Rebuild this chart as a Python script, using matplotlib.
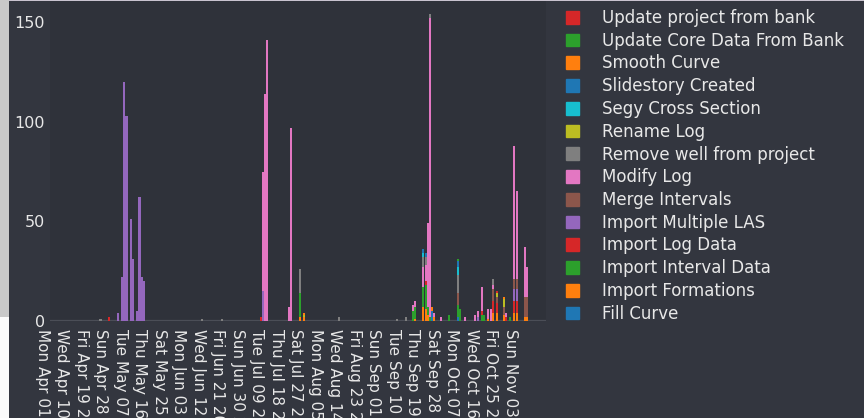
import matplotlib
matplotlib.use("Agg")
import matplotlib.pyplot as plt
import matplotlib.patches as mpatches
import numpy as np
import pandas as pd

# ---------------- data (events per day, stacked) ----------------
start_date = "2024-04-01"
end_date = "2024-11-20"
tick_every_days = 9
tick_count = 25

fill_curve = {"2024-09-28": 5, "2024-10-10": 2}
import_formations = {"2024-07-29": 2, "2024-07-31": 2, "2024-09-20": 1, "2024-09-24": 7,
                     "2024-09-25": 6, "2024-09-26": 3, "2024-09-28": 2, "2024-09-29": 2,
                     "2024-10-24": 1, "2024-10-26": 4, "2024-10-28": 4, "2024-10-31": 3,
                     "2024-11-05": 4, "2024-11-06": 4, "2024-11-10": 2, "2024-11-11": 2}
import_interval_data = {"2024-07-29": 12, "2024-09-19": 5, "2024-09-20": 6, "2024-09-24": 10,
                        "2024-09-25": 12, "2024-09-26": 4, "2024-09-27": 2, "2024-10-06": 3,
                        "2024-10-10": 6, "2024-10-11": 6, "2024-10-21": 3, "2024-10-22": 3,
                        "2024-11-03": 2}
import_log_data = {"2024-05-02": 2, "2024-07-11": 2, "2024-09-25": 2, "2024-10-21": 2,
                   "2024-10-26": 6, "2024-10-28": 5, "2024-11-01": 2, "2024-11-05": 6,
                   "2024-11-06": 6}
import_multiple_las = {"2024-05-06": 4, "2024-05-08": 22, "2024-05-09": 120, "2024-05-10": 103,
                       "2024-05-12": 51, "2024-05-13": 31, "2024-05-15": 5, "2024-05-16": 62,
                       "2024-05-17": 22, "2024-05-18": 20, "2024-07-12": 15, "2024-10-19": 2,
                       "2024-11-05": 6, "2024-11-06": 6}
merge_intervals = {"2024-10-10": 6, "2024-10-26": 6, "2024-10-28": 3, "2024-10-31": 4,
                   "2024-11-05": 5, "2024-11-06": 5, "2024-11-10": 10, "2024-11-11": 10}
modify_log = {"2024-07-12": 60, "2024-07-13": 114, "2024-07-14": 141, "2024-07-24": 7,
              "2024-07-25": 97, "2024-09-19": 3, "2024-09-20": 3, "2024-09-24": 10,
              "2024-09-25": 8, "2024-09-26": 42, "2024-09-27": 150, "2024-09-29": 2,
              "2024-10-02": 2, "2024-10-13": 2, "2024-10-18": 3, "2024-10-19": 3,
              "2024-10-21": 12, "2024-10-24": 5, "2024-10-25": 6, "2024-10-26": 2,
              "2024-11-01": 2, "2024-11-05": 67, "2024-11-06": 44, "2024-11-10": 25,
              "2024-11-11": 15}
remove_well = {"2024-04-28": 1, "2024-06-14": 1, "2024-06-23": 1, "2024-07-29": 12,
               "2024-08-16": 2, "2024-09-12": 1, "2024-09-16": 2, "2024-09-24": 5,
               "2024-09-25": 4, "2024-09-27": 2, "2024-10-10": 9, "2024-10-26": 3}
rename_log = {"2024-07-31": 1, "2024-10-28": 2, "2024-10-31": 4}
segy_cross_section = {"2024-09-24": 2, "2024-10-10": 4}
slidestory_created = {"2024-09-24": 2, "2024-09-25": 2, "2024-10-10": 3}
smooth_curve = {"2024-07-31": 1, "2024-10-31": 1}
update_core_data = {"2024-10-10": 1}
update_project = {"2024-10-28": 1}

series_names = ["Fill Curve", "Import Formations", "Import Interval Data", "Import Log Data",
                "Import Multiple LAS", "Merge Intervals", "Modify Log",
                "Remove well from project", "Rename Log", "Segy Cross Section",
                "Slidestory Created", "Smooth Curve", "Update Core Data From Bank",
                "Update project from bank"]
series_data = [fill_curve, import_formations, import_interval_data, import_log_data,
               import_multiple_las, merge_intervals, modify_log, remove_well, rename_log,
               segy_cross_section, slidestory_created, smooth_curve, update_core_data,
               update_project]
series_colors = ["#1f77b4", "#ff7f0e", "#2ca02c", "#d62728", "#9467bd", "#8c564b",
                 "#e377c2", "#7f7f7f", "#bcbd22", "#17becf", "#1f77b4", "#ff7f0e",
                 "#2ca02c", "#d62728"]

# ---------------- figure ----------------
W, H = 864, 418
fig = plt.figure(figsize=(W / 100, H / 100), dpi=100)
BG = "#33363f"
PLOT_BG = "#2f323a"
TXT = "#e8e8e8"
fig.patch.set_facecolor(BG)

def px_rect(x0, y0, x1, y1, color):
    fig.patches.append(mpatches.Rectangle((x0 / W, 1 - y1 / H), (x1 - x0) / W, (y1 - y0) / H,
                                          transform=fig.transFigure, facecolor=color,
                                          edgecolor="none", zorder=-10))

# surrounding page bits
px_rect(0, 0, 9, 317, "#c9c9c9")
px_rect(0, 317, 9, 418, "#fbfbfb")
px_rect(9, 0, W, 1.2, "#c9c3cf")
# plot area shade
px_rect(50, 1.2, 546, 321, PLOT_BG)

ax_left, ax_right, ax_top, ax_bottom = 38, 548, 2, 321
ax = fig.add_axes([ax_left / W, 1 - ax_bottom / H, (ax_right - ax_left) / W,
                   (ax_bottom - ax_top) / H])
ax.set_facecolor("none")
ax.set_zorder(2)

all_days = pd.date_range(start_date, end_date, freq="D")
t0 = pd.Timestamp(start_date)
x = np.array([(d - t0).days for d in all_days])
keys = [d.strftime("%Y-%m-%d") for d in all_days]

bottom = np.zeros(len(x))
handles = []
for name, data, col in zip(series_names, series_data, series_colors):
    vals = np.array([data.get(k, 0) for k in keys], dtype=float)
    ax.bar(x, vals, bottom=bottom, width=0.95, color=col, linewidth=0, label=name, zorder=2)
    handles.append(mpatches.Patch(color=col, label=name))
    bottom += vals

px_per_day = 2.167
x0_px = 42
ax.set_xlim((ax_left - x0_px) / px_per_day, (ax_right - x0_px) / px_per_day)
ax.set_ylim(0, (ax_bottom - ax_top) / 1.993)

# zero line
ax.plot([(50 - x0_px) / px_per_day, (546 - x0_px) / px_per_day], [0, 0],
        color="#4b4e57", lw=1.6, zorder=1, solid_capstyle="butt")

tick_dates = [t0 + pd.Timedelta(days=tick_every_days * i) for i in range(tick_count)]
ax.set_xticks([(d - t0).days for d in tick_dates])
ax.set_xticklabels([d.strftime("%a %b %d %Y") for d in tick_dates], rotation=-90,
                   fontsize=11, color=TXT, va="top", ha="center")
ax.set_yticks([0, 50, 100, 150])
ax.set_yticklabels(["0", "50", "100", "150"], fontsize=11.5, color=TXT)
ax.tick_params(axis="x", length=0, pad=5.5)
ax.tick_params(axis="y", length=0, pad=-5)
for s in ax.spines.values():
    s.set_visible(False)

leg = fig.legend(handles=handles[::-1], loc="upper left",
                 bbox_to_anchor=(566 / W, 1 - 9 / H), frameon=False, fontsize=12,
                 handlelength=0.8, handleheight=0.8, handletextpad=1.35,
                 labelspacing=0.285, borderpad=0, borderaxespad=0)
for t in leg.get_texts():
    t.set_color(TXT)

fig.savefig("out.png", dpi=100, facecolor=fig.get_facecolor())
